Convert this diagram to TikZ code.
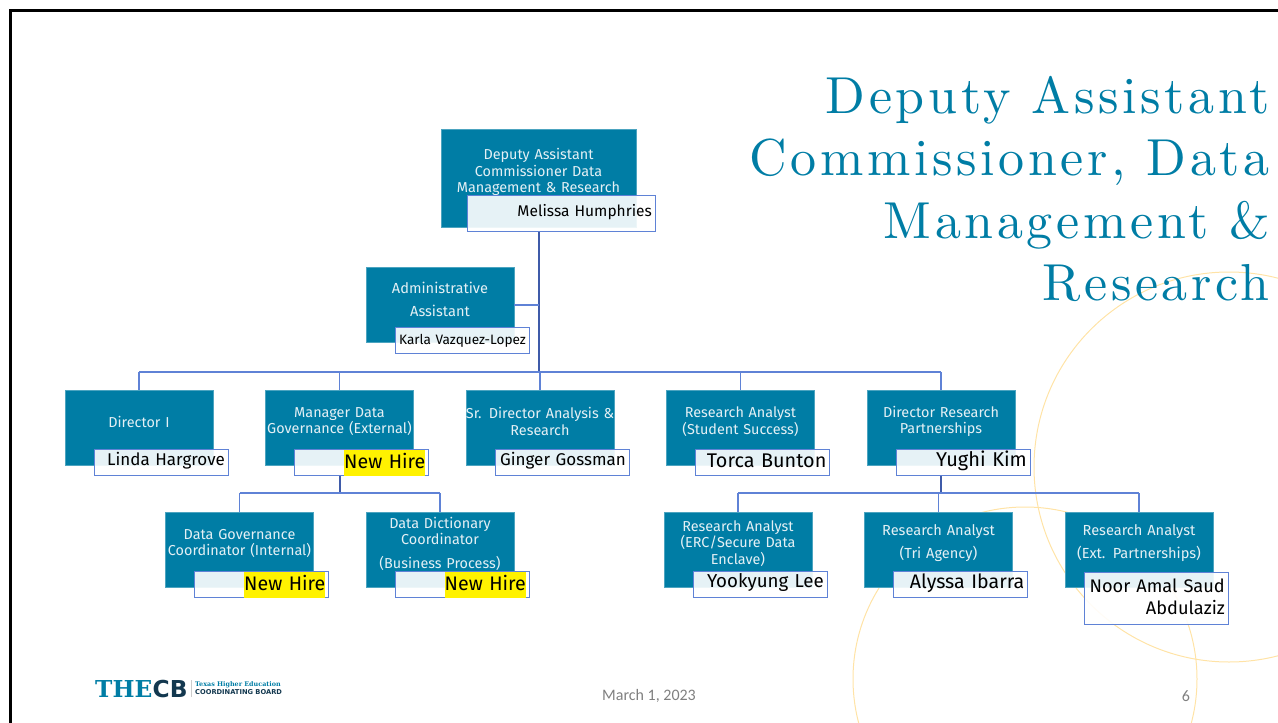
\documentclass[tikz,border=0pt]{standalone}
\usepackage{fontspec}
\usepackage{xcolor}
\usepackage{tikz}
\usetikzlibrary{positioning}
\setmainfont{Fira Sans}
\newfontfamily\titlefont[Extension=.otf,LetterSpace=7]{lmroman10-regular}
\newfontfamily\footfont{Carlito}
\newfontfamily\slabfont{DejaVu Serif}
\newfontfamily\logofont{DejaVu Sans}
\definecolor{teal}{HTML}{007DA5}
\definecolor{paletext}{HTML}{E4F0F5}
\definecolor{navy}{HTML}{13384F}
\definecolor{linkblue}{HTML}{3F5BA9}
\definecolor{boxblue}{HTML}{5F82D6}
\definecolor{ring}{HTML}{FFE3A6}
\newcommand{\newhire}{\fboxsep=0pt\colorbox{yellow}{\rule[-7.5pt]{0pt}{26pt}New Hire}}
\newcommand{\rolepad}{\endgraf\hrule height 12pt width 0pt}
\newcommand{\namepad}{\endgraf\hrule height 4pt width 0pt}

\begin{document}
\begin{tikzpicture}[x=1pt,y=-1pt,node distance=200.5pt]
  \tikzstyle{role}=[rectangle,fill=teal,draw=teal!70!white,line width=.5pt,text=paletext,
    minimum width=148pt,minimum height=75pt,inner sep=0pt,text width=148pt,align=center,
    font=\fontsize{14.4}{16.5}\selectfont,
    execute at end node=\rolepad]
  \tikzstyle{nameframe}=[rectangle,draw=boxblue,line width=1.2pt,fill=white,fill opacity=.9,text opacity=1,
    text=black,anchor=north west,xshift=29pt,yshift=16pt,minimum height=26pt,inner xsep=3.5pt,inner ysep=0pt,
    text width=127pt,align=right,font=\fontsize{17}{19}\selectfont]
  \tikzstyle{namebox}=[nameframe,execute at end node=\namepad]
  \tikzstyle{hirebox}=[nameframe,font=\fontsize{19.6}{21}\selectfont]
  \tikzstyle{link}=[draw=boxblue,line width=1.2pt]
  \tikzstyle{trunk}=[draw=linkblue,line width=2pt]
  \useasboundingbox (0,0) rectangle (1278,723);

  \begin{scope}
    \clip (0,0) rectangle (1278,723);
    \draw[ring,line width=1pt] (1229,467) circle (195pt);
    \draw[ring,line width=1pt] (1025,679) circle (172pt);
  \end{scope}
  \draw[black,line width=3pt] (1278,10.5) -- (10.5,10.5) -- (10.5,723);

  \node[anchor=north east,align=right,text=teal,inner sep=0pt,
    font=\titlefont\fontsize{52}{62.3}\selectfont] (title) at (1270,76)
    {Deputy Assistant\\Commissioner, Data\\Management \&\\Research};

  \node[role,minimum width=195pt,minimum height=98pt,text width=195pt] (dac) at (538.5,178)
    {Deputy Assistant\\Commissioner Data\\Management \& Research};
  \node[role,font=\fontsize{14.6}{23}\selectfont] (adm) at (440,305) {Administrative\\Assistant};

  \node[role]            (dir) at (139,427.5)  {Director I};
  \node[role]            (mgr) [right of=dir]  {Manager Data\\Governance (External)};
  \node[role,text width=156pt,inner xsep=-4pt] (srd) [right of=mgr]  {Sr. Director Analysis \&\\Research};
  \node[role]            (ras) [right of=srd]  {Research Analyst\\(Student Success)};
  \node[role]            (drp) [right of=ras]  {Director Research\\Partnerships};

  \node[role]            (dgc) at (239.5,549.5) {Data Governance\\Coordinator (Internal)};
  \node[role]            (ddc) [right of=dgc]   {Data Dictionary\\Coordinator\\[7pt](Business Process)};
  \node[role]            (erc) at (738,549.5)   {Research Analyst\\(ERC/Secure Data\\Enclave)};
  \node[role,font=\fontsize{14.6}{23}\selectfont] (tri) [right of=erc] {Research Analyst\\(Tri Agency)};
  \node[role,font=\fontsize{14.6}{23}\selectfont] (ext) [right of=tri] {Research Analyst\\(Ext. Partnerships)};

  \node[namebox,xshift=-3pt,yshift=16pt,minimum height=36pt,text width=181pt,
    font=\fontsize{15.5}{18}\selectfont] (n_dac) at (dac.south west) {Melissa Humphries};
  \node[nameframe,font=\fontsize{13.6}{15}\selectfont] (n_adm) at (adm.south west) {Karla Vazquez-Lopez};
  \node[namebox] (n_dir) at (dir.south west) {Linda Hargrove};
  \node[hirebox] (n_mgr) at (mgr.south west) {\newhire};
  \node[namebox] (n_srd) at (srd.south west) {Ginger Gossman};
  \node[namebox,font=\fontsize{19.8}{21}\selectfont] (n_ras) at (ras.south west) {Torca Bunton};
  \node[namebox,font=\fontsize{20}{21}\selectfont] (n_drp) at (drp.south west) {Yughi Kim};
  \node[hirebox] (n_dgc) at (dgc.south west) {\newhire};
  \node[hirebox] (n_ddc) at (ddc.south west) {\newhire};
  \node[namebox,font=\fontsize{18.7}{21}\selectfont] (n_erc) at (erc.south west) {Yookyung Lee};
  \node[namebox,font=\fontsize{19.6}{21}\selectfont] (n_tri) at (tri.south west) {Alyssa Ibarra};
  \node[namebox,xshift=-10pt,yshift=-1pt,minimum height=52pt,text width=137pt,
    font=\fontsize{18.2}{22}\selectfont] (n_ext) at (ext.south west) {Noor Amal Saud\\Abdulaziz};

  \coordinate (bus)   at (539,372);
  \coordinate (b_mgr) at (339.5,493);
  \coordinate (b_drp) at (940,493);

  \draw[trunk] (n_dac.south -| dac) -- (dac |- bus);
  \draw[link] (adm.east) -- (adm.east -| dac);
  \draw[link] (bus -| dir) -- (bus -| drp);
  \foreach \kid in {dir,mgr,srd,ras,drp}
    \draw[link] (bus -| \kid) -- (\kid.north);

  \draw[trunk] (n_mgr.south -| mgr) -- (mgr |- b_mgr);
  \draw[link] (b_mgr -| dgc) -- (b_mgr -| ddc);
  \foreach \kid in {dgc,ddc}
    \draw[link] (b_mgr -| \kid) -- (\kid.north);

  \draw[trunk] (n_drp.south -| drp) -- (drp |- b_drp);
  \draw[link] (b_drp -| erc) -- (b_drp -| ext);
  \foreach \kid in {erc,tri,ext}
    \draw[link] (b_drp -| \kid) -- (\kid.north);

  % footer
  \node[text=black!50,font=\footfont\fontsize{16}{18}\selectfont] (date) at (649,696) {March 1, 2023};
  \node[text=black!50,font=\footfont\fontsize{16}{18}\selectfont] (page) at (1186,696) {6};

  \node[anchor=west,inner sep=0pt,text=teal,font=\slabfont\bfseries\fontsize{23.3}{25}\selectfont] (l_the) at (95,689) {THE};
  \node[anchor=west,inner sep=0pt,text=navy,font=\logofont\bfseries\fontsize{23.3}{25}\selectfont] (l_cb) [right=0pt of l_the] {CB};
  \node[anchor=west,inner sep=0pt,text=teal,font=\slabfont\bfseries\fontsize{6.4}{7}\selectfont] (l_top) at (195,685) {Texas Higher Education};
  \node[anchor=west,inner sep=0pt,text=navy,font=\logofont\bfseries\fontsize{6.7}{7}\selectfont] (l_bot) at (195,692.5) {COORDINATING BOARD};
  \draw[black!20,line width=.6pt] (l_top.west |- l_the.north) ++(-4,0) -- ++(0,17);
\end{tikzpicture}
\end{document}
